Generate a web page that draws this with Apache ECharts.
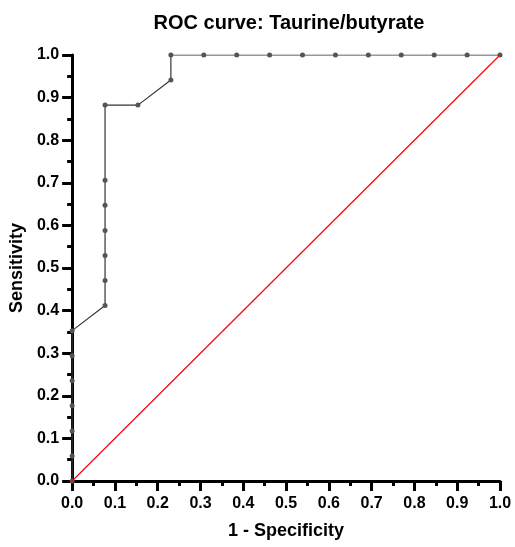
<!DOCTYPE html>
<html><head><meta charset="utf-8">
<script src="https://cdn.jsdelivr.net/npm/echarts@6/dist/echarts.min.js"></script>
<style>html,body{margin:0;padding:0;background:#fff}#c{width:515px;height:547px}</style>
</head><body><div id="c"></div>
<script>
var rocX = [0,0,0,0,0,0,0, 1/13,1/13,1/13,1/13,1/13,1/13,1/13, 2/13, 3/13,3/13, 4/13,5/13,6/13,7/13,8/13,9/13,10/13,11/13,12/13,13/13];
var rocY = [0,1/17,2/17,3/17,4/17,5/17,6/17, 7/17,8/17,9/17,10/17,11/17,12/17,15/17, 15/17, 16/17,1, 1,1,1,1,1,1,1,1,1,1];
var refX = [0,1];
var refY = [0,1];
var titleText = 'ROC curve: Taurine/butyrate';
var xName = '1 - Specificity';
var yName = 'Sensitivity';

var font = 'Liberation Sans, Arial, sans-serif';
var chart = echarts.init(document.getElementById('c'));
function axisCommon(){
  return {
    type:'value', min:0, max:1, interval:0.1,
    axisLine:{show:true, onZero:false, lineStyle:{color:'#000', width:3}},
    axisTick:{show:true, inside:false, length:10, lineStyle:{color:'#000', width:3}},
    minorTick:{show:true, splitNumber:2, length:5, lineStyle:{color:'#000', width:3}},
    splitLine:{show:false},
    axisLabel:{color:'#000', fontFamily:font, fontWeight:'bold', fontSize:16, formatter:function(v){return v.toFixed(1);}},
    nameTextStyle:{color:'#000', fontFamily:font, fontWeight:'bold', fontSize:18}
  };
}
var xa = axisCommon(); xa.name = xName; xa.nameLocation='middle'; xa.nameGap=41; xa.axisLabel.margin=15;
var ya = axisCommon(); ya.name = yName; ya.nameLocation='middle'; ya.nameGap=44; ya.axisLabel.margin=13;
chart.setOption({
  animation:false,
  title:{text:titleText, left:284, top:8, textAlign:'center', textStyle:{color:'#000', fontFamily:font, fontWeight:'bold', fontSize:20}},
  grid:{left:71, right:15, top:55, bottom:66, containLabel:false},
  xAxis:xa, yAxis:ya,
  series:[
    {type:'line', data:rocX.map(function(x,i){return [x, rocY[i]];}), symbol:'circle', symbolSize:5, showAllSymbol:true,
     itemStyle:{color:'#555'}, lineStyle:{color:'#333', width:1.2}, z:3},
    {type:'line', data:refX.map(function(x,i){return [x, refY[i]];}), symbol:'none', lineStyle:{color:'#ff0000', width:1.2}, z:4}
  ]
});
</script></body></html>
